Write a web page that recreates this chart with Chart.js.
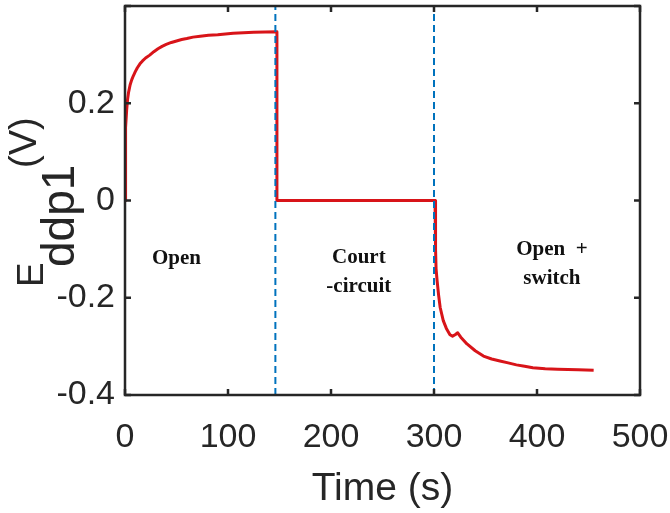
<!DOCTYPE html>
<html>
<head>
<meta charset="utf-8">
<script src="https://cdn.jsdelivr.net/npm/chart.js@4/dist/chart.umd.min.js"></script>
<style>
html,body{margin:0;padding:0;background:#fff;}
#c{display:block;}
</style>
</head>
<body>
<canvas id="c" width="670" height="513"></canvas>
<script>
// ---- data ----
const timeS = [0, 0.3, 0.8, 1.6, 2.5, 3.5, 5, 6.5, 8, 10, 12, 14.5, 17, 20, 24, 28, 32, 36, 40, 45, 50, 55, 60, 66, 73, 81, 90, 105, 125, 147.5, 147.5,
  200, 250, 301, 301.5, 302, 303, 304.5, 306, 309, 312, 315.5, 318, 320.5, 323, 326, 332, 340, 348, 356, 364, 372, 380,
  388, 396, 408, 420, 440, 455];
const voltage = [0, 0.09, 0.15, 0.186, 0.208, 0.223, 0.238, 0.248, 0.256, 0.265, 0.273, 0.281, 0.287, 0.293, 0.299, 0.306, 0.312, 0.317, 0.321, 0.325, 0.328, 0.331, 0.333, 0.336, 0.338, 0.340, 0.341, 0.344, 0.346, 0.347, 0,
  0, 0, 0, -0.1, -0.14, -0.165, -0.195, -0.22, -0.247, -0.263, -0.276, -0.279, -0.276, -0.272, -0.281, -0.295, -0.309, -0.32, -0.326, -0.330, -0.334, -0.338,
  -0.341, -0.344, -0.346, -0.347, -0.348, -0.349];
const switchTimes = [146, 300];
const xTicks = [0, 100, 200, 300, 400, 500];
const yTicks = [-0.4, -0.2, 0, 0.2, 0.4];
const phaseLabels = [
  {lines: ['Open'], x: 50, y: -0.13},
  {lines: ['Court', '-circuit'], x: 227, y: -0.128},
  {lines: ['Open  +', 'switch'], x: 414.5, y: -0.113}
];
const xTitle = 'Time (s)';

const X_MIN = 0, X_MAX = 500, Y_MIN = -0.4, Y_MAX = 0.4;
const INK = '#262626';
const SANS = '"Liberation Sans", Arial, Helvetica, sans-serif';
const SERIF = '"Liberation Serif", "Times New Roman", serif';

const redData = timeS.map((t, i) => ({x: t, y: voltage[i]}));
const switchSets = switchTimes.map(t => ({
  data: [{x: t, y: Y_MIN}, {x: t, y: Y_MAX}],
  borderColor: '#0072BD',
  borderWidth: 2,
  borderDash: [7, 4],
  pointRadius: 0,
  fill: false,
  order: 0
}));

const framePlugin = {
  id: 'frame',
  afterDraw(chart) {
    const ctx = chart.ctx;
    const a = chart.chartArea;
    const xs = chart.scales.x, ys = chart.scales.y;
    ctx.save();
    ctx.strokeStyle = INK;
    ctx.lineWidth = 2.5;
    ctx.strokeRect(a.left, a.top, a.right - a.left, a.bottom - a.top);
    const tl = 6;
    ctx.beginPath();
    xTicks.forEach(v => {
      const px = xs.getPixelForValue(v);
      ctx.moveTo(px, a.bottom); ctx.lineTo(px, a.bottom - tl);
      ctx.moveTo(px, a.top); ctx.lineTo(px, a.top + tl);
    });
    yTicks.forEach(v => {
      const py = ys.getPixelForValue(v);
      ctx.moveTo(a.left, py); ctx.lineTo(a.left + tl, py);
      ctx.moveTo(a.right, py); ctx.lineTo(a.right - tl, py);
    });
    ctx.stroke();

    ctx.fillStyle = '#111';
    ctx.font = 'bold 21px ' + SERIF;
    ctx.textAlign = 'center';
    ctx.textBaseline = 'alphabetic';
    phaseLabels.forEach(p => {
      const px = xs.getPixelForValue(p.x);
      const py = ys.getPixelForValue(p.y);
      p.lines.forEach((l, i) => ctx.fillText(l, px, py + i * 29));
    });

    ctx.fillStyle = INK;
    ctx.textAlign = 'left';
    const drawRot = (txt, font, bx, by) => {
      ctx.save();
      ctx.translate(bx, by);
      ctx.rotate(-Math.PI / 2);
      ctx.font = font;
      ctx.fillText(txt, 0, 0);
      ctx.restore();
    };
    drawRot('E', '37px ' + SANS, 43, 287);
    drawRot('ddp1', '46px ' + SANS, 74, 267);
    drawRot('(V)', '38px ' + SANS, 36, 168);
    ctx.restore();
  }
};

new Chart(document.getElementById('c'), {
  type: 'line',
  data: {
    datasets: [
      ...switchSets,
      {
        data: redData,
        borderColor: '#d81419',
        borderWidth: 3,
        pointRadius: 0,
        tension: 0,
        borderJoinStyle: 'round',
        fill: false,
        order: 1
      }
    ]
  },
  options: {
    responsive: false,
    animation: false,
    devicePixelRatio: 1,
    layout: {padding: {top: 6, right: 30, left: 0, bottom: 0}},
    plugins: {legend: {display: false}, tooltip: {enabled: false}},
    scales: {
      x: {
        type: 'linear',
        min: X_MIN, max: X_MAX,
        afterBuildTicks: s => { s.ticks = xTicks.map(v => ({value: v})); },
        afterFit: s => { s.height = 118; s.paddingLeft = 0; s.paddingRight = 0; },
        grid: {display: false, drawTicks: false},
        border: {display: false},
        ticks: {
          color: INK,
          font: {family: SANS, size: 34},
          padding: 22,
          maxRotation: 0,
          autoSkip: false,
          callback: v => String(v)
        },
        title: {
          display: true,
          text: xTitle,
          color: INK,
          font: {family: SANS, size: 39},
          padding: {top: 4, bottom: 0}
        }
      },
      y: {
        type: 'linear',
        min: Y_MIN, max: Y_MAX,
        afterBuildTicks: s => { s.ticks = yTicks.map(v => ({value: v})); },
        afterFit: s => { s.width = 125; s.paddingTop = 0; s.paddingBottom = 0; },
        grid: {display: false, drawTicks: false},
        border: {display: false},
        ticks: {
          color: INK,
          font: {family: SANS, size: 34},
          padding: 10,
          autoSkip: false,
          callback: v => {
            const r = Math.round(v * 10) / 10;
            if (r === 0.4) return '';
            return r === 0 ? '0' : String(r);
          }
        }
      }
    }
  },
  plugins: [framePlugin]
});
</script>
</body>
</html>
